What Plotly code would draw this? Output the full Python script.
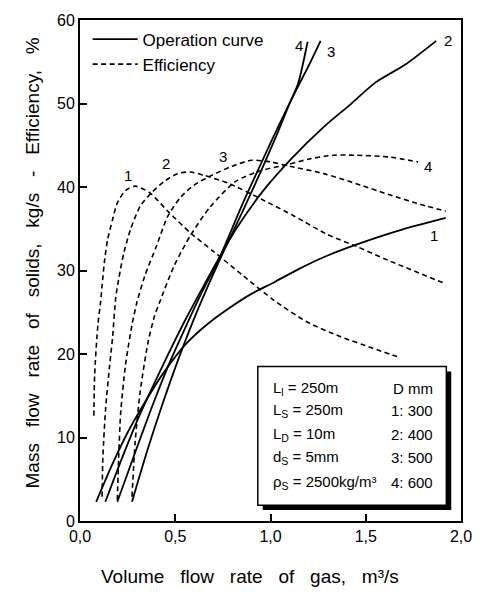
import plotly.graph_objects as go

# ---------------- data ----------------
# Operation curves (solid), D = 300, 400, 500, 600 mm
x_op1 = [0.085, 0.17, 0.25, 0.34, 0.44, 0.56, 0.67, 0.79, 0.90, 1.02, 1.15, 1.30, 1.45, 1.69, 1.92]
y_op1 = [2.3, 6.8, 10.6, 14.2, 17.8, 21.3, 23.6, 25.6, 27.2, 28.6, 30.2, 31.8, 33.1, 34.9, 36.3]

x_op2 = [0.133, 0.22, 0.30, 0.38, 0.47, 0.56, 0.65, 0.73, 0.82, 0.96, 1.11, 1.28, 1.42, 1.55, 1.71, 1.87]
y_op2 = [2.3, 7.5, 12.0, 16.0, 20.3, 24.4, 28.2, 31.5, 35.0, 39.5, 43.4, 47.2, 49.9, 52.5, 54.7, 57.5]

x_op3 = [0.196, 0.28, 0.37, 0.46, 0.55, 0.64, 0.73, 0.85, 0.95, 1.04, 1.13, 1.20, 1.263]
y_op3 = [2.3, 7.6, 13.2, 18.4, 23.0, 27.4, 31.4, 37.8, 42.8, 47.2, 51.4, 54.5, 57.5]

x_op4 = [0.273, 0.35, 0.43, 0.52, 0.62, 0.74, 0.85, 0.95, 1.03, 1.10, 1.145, 1.195]
y_op4 = [2.3, 8.2, 13.8, 19.6, 25.4, 31.6, 36.9, 41.9, 46.1, 50.0, 52.4, 57.4]

# Efficiency curves (dashed)
x_ef1 = [0.073, 0.077, 0.094, 0.108, 0.116, 0.128, 0.145, 0.171, 0.196, 0.24, 0.29, 0.367,
         0.461, 0.58, 0.70, 0.85, 1.02, 1.195, 1.365, 1.536, 1.664]
y_ef1 = [12.6, 17.6, 23.5, 26.2, 28.2, 31.0, 33.7, 36.1, 38.1, 39.6, 40.1, 39.3,
         37.1, 34.5, 32.3, 29.5, 26.4, 23.8, 22.1, 20.7, 19.7]

x_ef2 = [0.116, 0.12, 0.135, 0.155, 0.171, 0.188, 0.205, 0.230, 0.265, 0.316, 0.375, 0.444,
         0.512, 0.58, 0.65, 0.785, 0.956, 1.126, 1.30, 1.45, 1.62, 1.92]
y_ef2 = [2.9, 7.6, 13.6, 18.5, 22.0, 26.8, 29.2, 32.1, 34.9, 37.7, 39.3, 40.7,
         41.6, 41.8, 41.4, 40.4, 38.5, 36.5, 34.3, 32.9, 31.2, 28.4]

x_ef3 = [0.196, 0.203, 0.213, 0.239, 0.273, 0.299, 0.341, 0.401, 0.461, 0.529, 0.597, 0.683,
         0.80, 0.90, 1.0, 1.10, 1.28, 1.45, 1.62, 1.79, 1.92]
y_ef3 = [2.5, 7.5, 12.8, 18.7, 23.5, 26.2, 29.4, 32.9, 36.5, 38.8, 40.2, 41.3,
         42.5, 43.2, 43.0, 42.5, 41.6, 40.4, 39.1, 37.9, 37.1]

x_ef4 = [0.273, 0.29, 0.316, 0.358, 0.392, 0.418, 0.495, 0.58, 0.683, 0.819, 0.956, 1.092,
         1.212, 1.331, 1.45, 1.62, 1.775]
y_ef4 = [2.9, 9.6, 15.5, 21.5, 24.6, 26.2, 30.6, 34.2, 37.6, 40.7, 42.0, 42.7,
         43.4, 43.8, 43.8, 43.6, 43.0]

x_ticks = [0.0, 0.5, 1.0, 1.5, 2.0]
y_ticks = [0, 10, 20, 30, 40, 50, 60]

# curve labels: (text, x, y)
op_labels = [("1", 1.86, 34.2), ("2", 1.93, 57.6), ("3", 1.315, 56.2), ("4", 1.15, 56.9)]
ef_labels = [("1", 0.251, 41.4), ("2", 0.451, 42.8), ("3", 0.751, 43.6), ("4", 1.826, 42.4)]

box_left = ["L<sub>l</sub> = 250m", "L<sub>S</sub> = 250m", "L<sub>D</sub> = 10m",
            "d<sub>S</sub> = 5mm", "ρ<sub>S</sub> = 2500kg/m³"]
box_right = ["D mm", "1: 300", "2: 400", "3: 500", "4: 600"]

FONT = "Arial, Liberation Sans, sans-serif"

fig = go.Figure()

op_sets = [(x_op1, y_op1), (x_op2, y_op2), (x_op3, y_op3), (x_op4, y_op4)]
ef_sets = [(x_ef1, y_ef1), (x_ef2, y_ef2), (x_ef3, y_ef3), (x_ef4, y_ef4)]

for i, (xs, ys) in enumerate(op_sets):
    fig.add_trace(go.Scatter(x=xs, y=ys, mode="lines", name="Operation curve",
                             line=dict(color="black", width=1.8, shape="spline", smoothing=0.7),
                             showlegend=(i == 0), legendgroup="op", hoverinfo="skip"))
for i, (xs, ys) in enumerate(ef_sets):
    fig.add_trace(go.Scatter(x=xs, y=ys, mode="lines", name="Efficiency",
                             line=dict(color="black", width=1.6, dash="5px,3.5px",
                                       shape="spline", smoothing=0.7),
                             showlegend=(i == 0), legendgroup="ef", hoverinfo="skip"))

annotations = []
for t, x, y in op_labels + ef_labels:
    annotations.append(dict(text=t, x=x, y=y, xref="x", yref="y", showarrow=False,
                            font=dict(family=FONT, size=15, color="black")))

# axis titles
sp = " \u00a0\u00a0"
annotations.append(dict(text=sp.join(["Volume", "flow", "rate", "of", "gas,", "m³/s"]),
                        xref="paper", yref="paper", x=0.446, y=-0.11,
                        xanchor="center", yanchor="middle", showarrow=False,
                        font=dict(family=FONT, size=19, color="black")))
annotations.append(dict(text=sp.join(["Mass", "flow", "rate", "of", "solids,", "kg/s", "-",
                                      "Efficiency,", "%"]),
                        xref="paper", yref="paper", x=-0.126, y=0.516, textangle=-90,
                        xanchor="center", yanchor="middle", showarrow=False,
                        font=dict(family=FONT, size=19, color="black")))

# parameter box text
row_py = [386.7, 409.3, 433.3, 456.7, 481.7]
for t, p in zip(box_left, row_py):
    annotations.append(dict(text=t, xref="paper", yref="paper", x=0.5, y=(521 - p) / 506,
                            xanchor="left", yanchor="middle", showarrow=False,
                            font=dict(family=FONT, size=15, color="black")))
for t, p in zip(box_right, row_py):
    annotations.append(dict(text=t, xref="paper", yref="paper", x=0.931, y=(521 - p) / 506,
                            xanchor="right", yanchor="middle", showarrow=False,
                            font=dict(family=FONT, size=15, color="black")))

def px2paper_x(px):
    return (px - 80) / 390.0

def px2paper_y(py):
    return (521 - py) / 506.0

shapes = [
    dict(type="rect", xref="paper", yref="paper",
         x0=px2paper_x(267), x1=px2paper_x(460), y0=px2paper_y(510), y1=px2paper_y(370),
         fillcolor="black", line=dict(width=0), layer="above"),
    dict(type="rect", xref="paper", yref="paper",
         x0=px2paper_x(262), x1=px2paper_x(455), y0=px2paper_y(505), y1=px2paper_y(365),
         fillcolor="white", line=dict(color="black", width=1.5), layer="above"),
]

axis_common = dict(showline=True, linecolor="black", linewidth=2, mirror=True,
                   ticks="inside", ticklen=7, tickwidth=1.5, tickcolor="black",
                   showgrid=False, zeroline=False,
                   tickfont=dict(family=FONT, size=16, color="black"))

fig.update_layout(
    width=484, height=598,
    margin=dict(l=80, r=14, t=15, b=77),
    paper_bgcolor="white", plot_bgcolor="white",
    separators=",.",
    font=dict(family=FONT, color="black"),
    xaxis=dict(range=[0, 2], tickvals=x_ticks, tickformat=".1f", **axis_common),
    yaxis=dict(range=[0, 60], tickvals=y_ticks, **axis_common),
    legend=dict(x=0.02, y=0.997, xanchor="left", yanchor="top", bgcolor="rgba(0,0,0,0)",
                font=dict(family=FONT, size=17, color="black"), itemwidth=45,
                tracegroupgap=0),
    annotations=annotations,
    shapes=shapes,
)

fig.write_html("out.html")
